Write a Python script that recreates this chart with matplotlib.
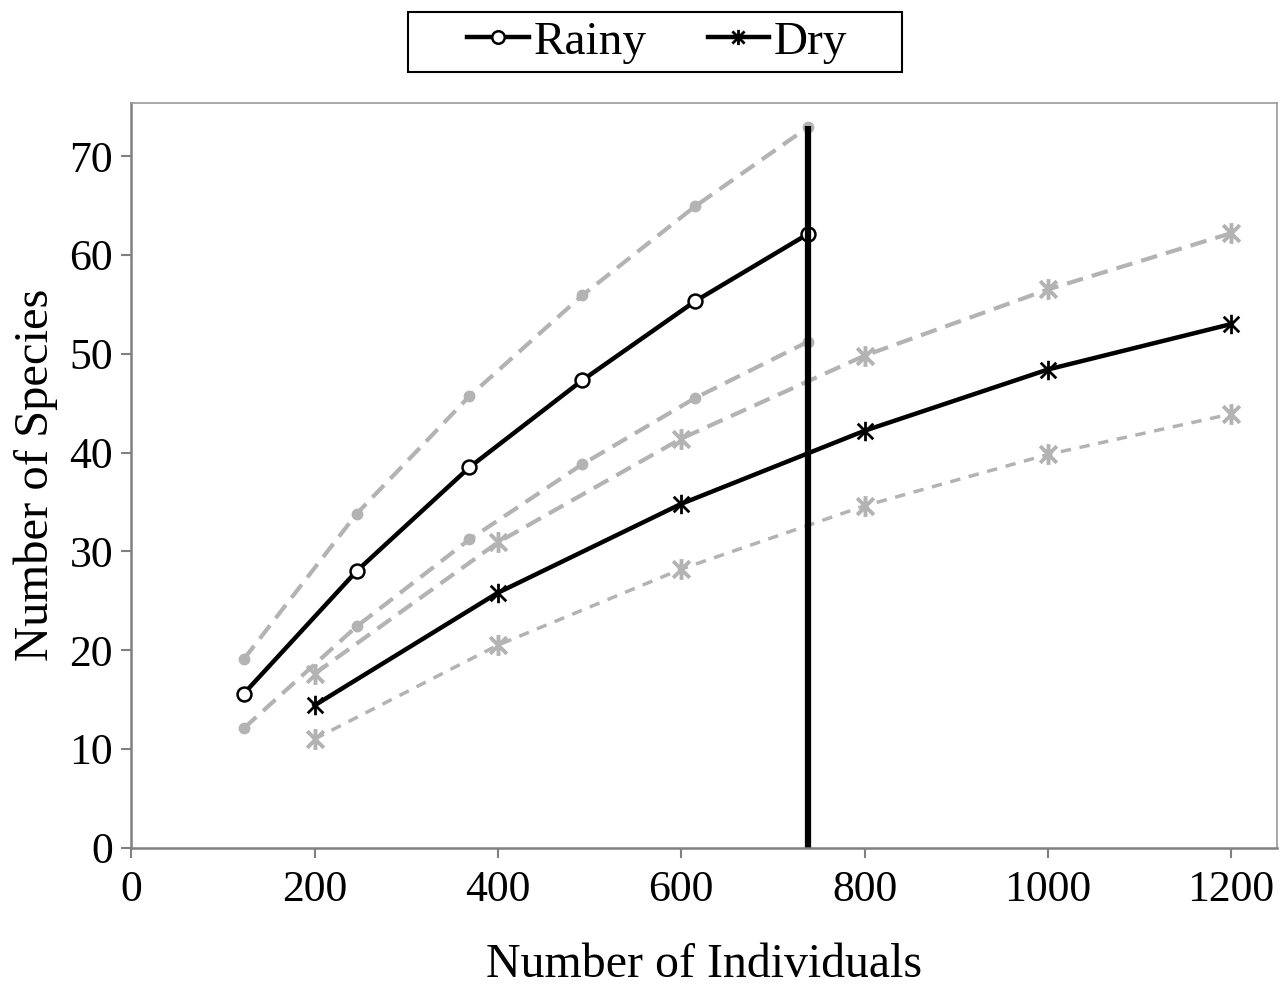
import matplotlib
matplotlib.use("Agg")
import matplotlib.pyplot as plt
from matplotlib.lines import Line2D
from matplotlib.path import Path
from matplotlib.patches import Rectangle

# --- rarefaction curves: rainy vs dry season ---
rainy_x = [123, 246, 369, 492, 615, 738]
rainy_y = [15.6, 28.0, 38.5, 47.3, 55.3, 62.1]
rainy_hi = [19.1, 33.8, 45.7, 55.9, 64.9, 72.9]
rainy_lo = [12.1, 22.4, 31.2, 38.8, 45.5, 51.2]

dry_x = [200, 400, 600, 800, 1000, 1200]
dry_y = [14.4, 25.8, 34.8, 42.2, 48.4, 53.0]
dry_hi = [17.6, 30.9, 41.4, 49.8, 56.5, 62.2]
dry_lo = [11.0, 20.5, 28.2, 34.6, 39.8, 43.9]

cut_x = 738
cut_top = 73.0

xticks = [0, 200, 400, 600, 800, 1000, 1200]
yticks = [0, 10, 20, 30, 40, 50, 60, 70]

plt.rcParams['font.family'] = ['Liberation Serif', 'DejaVu Serif']

GRAY = '#b3b3b3'
# excel-style star: an X with a vertical bar through it
STAR = Path([(-0.8, -0.8), (0.8, 0.8), (-0.8, 0.8), (0.8, -0.8), (0, -1), (0, 1)],
            [Path.MOVETO, Path.LINETO] * 3)

fig = plt.figure(figsize=(12.86, 9.88), dpi=100)
ax = fig.add_axes([0.102, 0.142, 0.891, 0.754])

# confidence bounds (gray dashed)
ax.plot(rainy_x, rainy_hi, color=GRAY, lw=3, dashes=(4, 2.2), marker='o', ms=7.5, mfc=GRAY, mec=GRAY)
ax.plot(rainy_x, rainy_lo, color=GRAY, lw=3, dashes=(4, 2.2), marker='o', ms=7.5, mfc=GRAY, mec=GRAY)
ax.plot(dry_x, dry_hi, color=GRAY, lw=3, dashes=(4, 2.2), marker=STAR, ms=15, mec=GRAY, mew=2.8)
ax.plot(dry_x, dry_lo, color=GRAY, lw=2.5, dashes=(3, 2.5), marker=STAR, ms=15, mec=GRAY, mew=2.8)

# observed curves
ax.plot(rainy_x, rainy_y, color='black', lw=3.2, marker='o', ms=10, mfc='white', mec='black', mew=1.8)
ax.plot(dry_x, dry_y, color='black', lw=3.2, marker=STAR, ms=14, mec='black', mew=2)

# sample size cut-off
ax.plot([cut_x, cut_x], [0, cut_top], color='black', lw=4.5, solid_capstyle='butt')

ax.set_xlim(0, 1250)
ax.set_ylim(0, 75.4)
ax.set_xticks(xticks)
ax.set_yticks(yticks)
ax.tick_params(labelsize=31.5, length=7, width=1.5, color='#808080', direction='out')
ax.tick_params(axis='x', pad=9)
ax.tick_params(axis='y', pad=6)
for s in ['left', 'bottom']:
    ax.spines[s].set_color('#808080')
    ax.spines[s].set_linewidth(1.8)
for s in ['top', 'right']:
    ax.spines[s].set_color('#9a9a9a')
    ax.spines[s].set_linewidth(1.2)

ax.set_xlabel('Number of Individuals', fontsize=34.5, labelpad=24)
ax.set_ylabel('Number of Species', fontsize=35, labelpad=8)

handles = [
    Line2D([], [], color='black', lw=3.2, marker='o', ms=9, mfc='white', mec='black', mew=1.8),
    Line2D([], [], color='black', lw=3.2, marker=STAR, ms=11, mec='black', mew=2),
]
fig.legend(handles, ['Rainy', 'Dry'], loc='center', bbox_to_anchor=(0.511, 0.9575),
           ncol=2, fontsize=34, frameon=False,
           handlelength=1.3, handletextpad=0.1, columnspacing=1.3, borderpad=0.1)
fig.patches.append(Rectangle((0.3173, 0.9271), 0.3841, 0.0607, transform=fig.transFigure,
                             fill=False, edgecolor='black', lw=1.5))

fig.savefig('out.png', dpi=100)
